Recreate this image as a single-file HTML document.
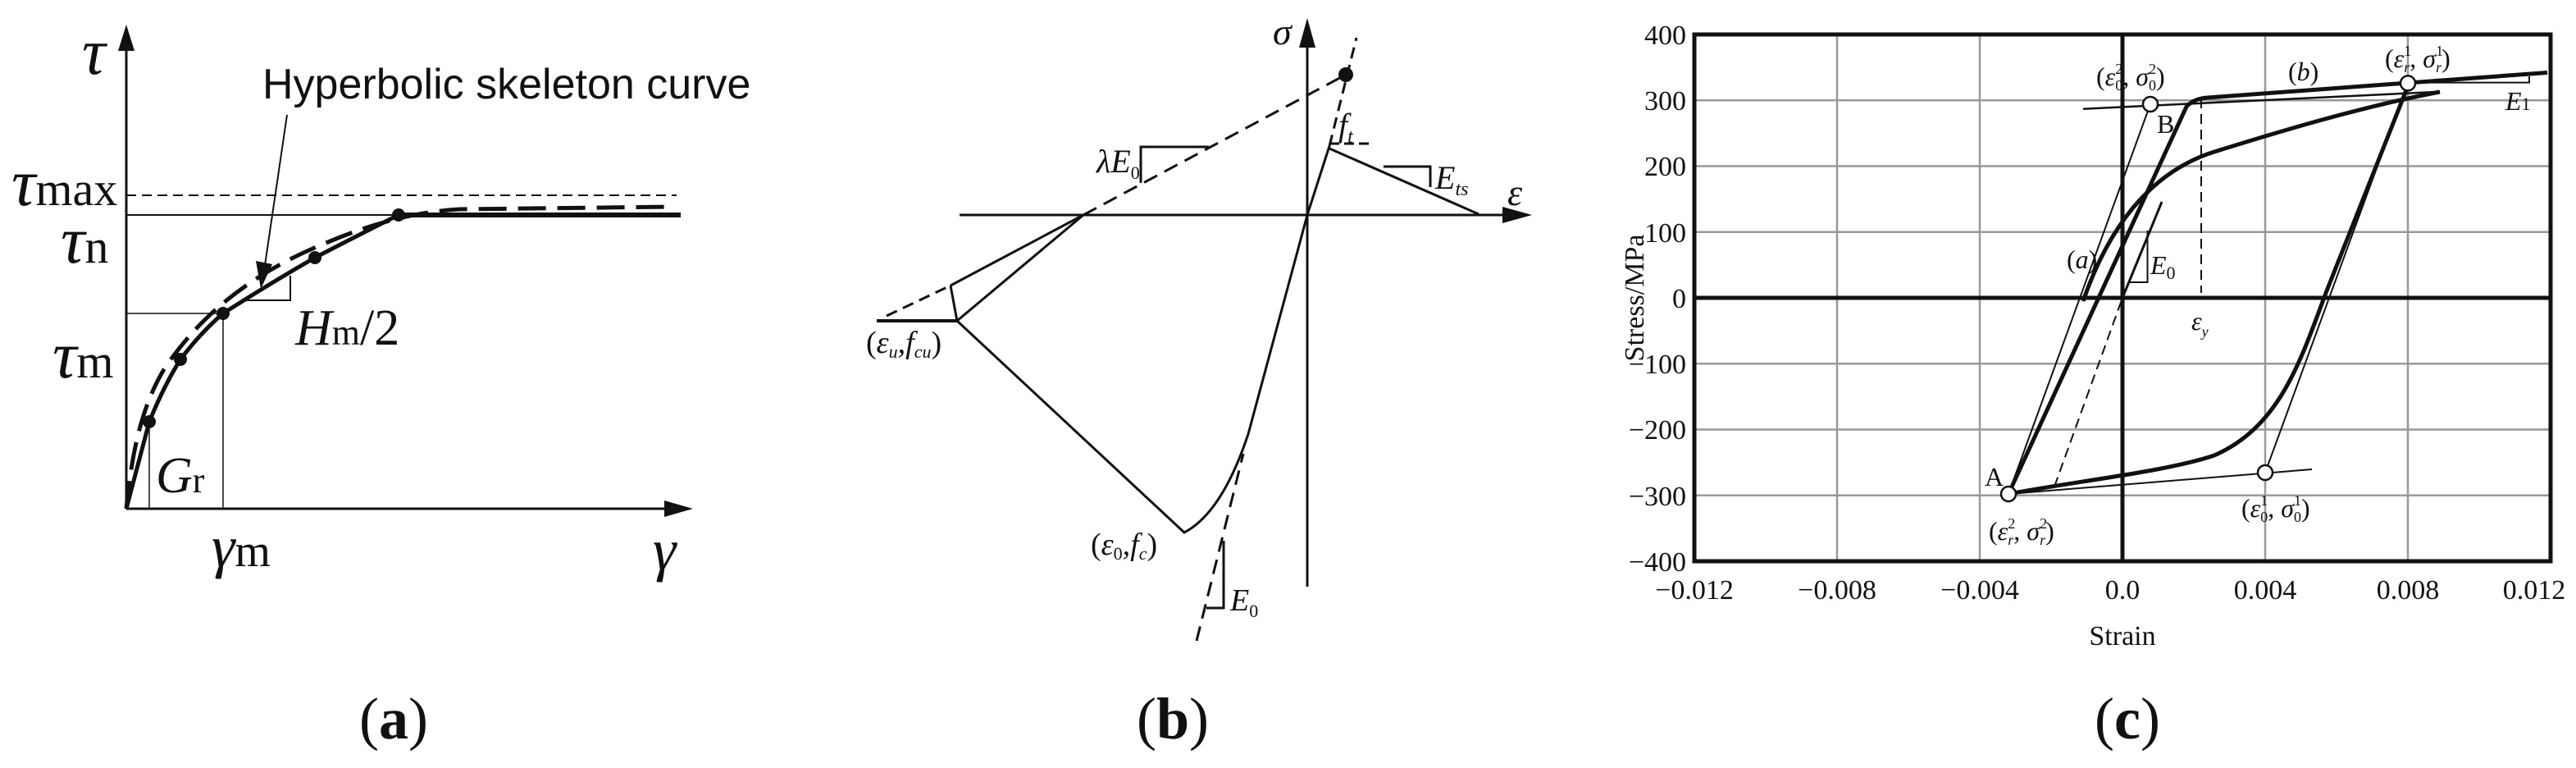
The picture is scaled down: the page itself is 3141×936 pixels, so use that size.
<!DOCTYPE html>
<html><head><meta charset="utf-8"><style>
html,body{margin:0;padding:0;background:#fff;}
svg{display:block;}
.s{font-family:"Liberation Serif",serif;}
.i{font-family:"Liberation Serif",serif;font-style:italic;}
</style></head><body>
<svg width="3141" height="936" viewBox="0 0 3141 936" xmlns="http://www.w3.org/2000/svg">
<rect width="3141" height="936" fill="#fff"/>

<!-- ===== Panel (a) ===== -->
<g stroke="#111" fill="none">
  <line x1="154" y1="620" x2="154" y2="50" stroke-width="3"/>
  <path d="M154,30 L144,62 L164,62 z" fill="#111" stroke="none"/>
  <line x1="154" y1="620" x2="820" y2="620" stroke-width="3"/>
  <path d="M845,620 L810,610 L810,630 z" fill="#111" stroke="none"/>
  <line x1="154" y1="238" x2="825" y2="238" stroke-width="2" stroke-dasharray="12,7"/>
  <line x1="154" y1="262" x2="486" y2="262" stroke-width="2"/>
  <line x1="486" y1="262" x2="830" y2="262" stroke-width="6"/>
  <line x1="154" y1="382" x2="272" y2="382" stroke-width="1.5"/>
  <line x1="272" y1="382" x2="272" y2="620" stroke-width="1.5"/>
  <line x1="182" y1="514" x2="182" y2="620" stroke-width="1.5"/>
  <polyline points="300,366 354,366 354,336" stroke-width="2"/>
  <path d="M154,620 L182,514 Q200,470 220,438 Q245,405 272,382 Q330,345 384,314 Q440,285 486,262" stroke-width="5"/>
  <path d="M154,620 C160,560 170,500 200,450 C240,390 300,335 400,295 C460,270 510,258 560,255 L820,252" stroke-width="5" stroke-dasharray="34,14"/>
  <line x1="350" y1="140" x2="322" y2="330" stroke-width="2"/>
  <path d="M318,352 L312,318 L332,322 z" fill="#111" stroke="none"/>
</g>
<g fill="#111">
  <circle cx="182" cy="514" r="8"/><circle cx="220" cy="438" r="8"/><circle cx="272" cy="382" r="8"/><circle cx="384" cy="314" r="8"/><circle cx="486" cy="262" r="8"/>
</g>
<g class="i" fill="#111">
  <text x="100" y="90" font-size="80">τ</text>
  <text x="14" y="250" font-size="82">τ<tspan class="s" font-style="normal" font-size="58">max</tspan></text>
  <text x="74" y="320" font-size="82">τ<tspan class="s" font-style="normal" font-size="58">n</tspan></text>
  <text x="64" y="460" font-size="82">τ<tspan class="s" font-style="normal" font-size="58">m</tspan></text>
  <text x="360" y="420" font-size="62">H<tspan class="s" font-style="normal" font-size="44">m</tspan><tspan class="s" font-style="normal">/2</tspan></text>
  <text x="190" y="620" font-size="62" dy="-20">G<tspan class="s" font-style="normal" font-size="44">r</tspan></text>
  <text x="258" y="690" font-size="72">γ<tspan class="s" font-style="normal" font-size="56">m</tspan></text>
  <text x="796" y="694" font-size="72">γ</text>
</g>
<text x="320" y="120" font-family="Liberation Sans, sans-serif" font-size="52" fill="#111">Hyperbolic skeleton curve</text>
<text x="480" y="900" text-anchor="middle" class="s" font-size="72" fill="#111">(<tspan font-weight="bold">a</tspan>)</text>

<!-- ===== Panel (b) ===== -->
<g stroke="#111" fill="none" stroke-width="3">
  <line x1="1594" y1="715" x2="1594" y2="50"/>
  <path d="M1594,22 L1584,58 L1604,58 z" fill="#111" stroke="none"/>
  <line x1="1170" y1="262" x2="1840" y2="262"/>
  <path d="M1868,262 L1832,252 L1832,272 z" fill="#111" stroke="none"/>
  <line x1="1594" y1="262" x2="1621" y2="178"/>
  <line x1="1621" y1="178" x2="1654" y2="46" stroke-dasharray="14,8"/>
  <line x1="1621" y1="175" x2="1672" y2="175" stroke-dasharray="12,6"/>
  <line x1="1621" y1="181" x2="1803" y2="261"/>
  <polyline points="1687,203 1744,203 1744,228"/>
  <path d="M1594,262 L1522,529 Q1490,625 1444,649 L1167,391"/>
  <line x1="1069" y1="391" x2="1167" y2="391" stroke-width="4"/>
  <line x1="1081" y1="385" x2="1159" y2="348" stroke-dasharray="14,8"/>
  <line x1="1159" y1="348" x2="1167" y2="391"/>
  <line x1="1159" y1="348" x2="1321" y2="262"/>
  <line x1="1167" y1="391" x2="1321" y2="262"/>
  <line x1="1321" y1="262" x2="1641" y2="91" stroke-dasharray="18,10"/>
  <polyline points="1474,179 1391,179 1391,223"/>
  <line x1="1459" y1="781" x2="1516" y2="553" stroke-dasharray="18,10"/>
  <polyline points="1492,659 1492,741 1471,741"/>
</g>
<circle cx="1641" cy="91" r="9" fill="#111"/>
<g class="i" fill="#111">
  <text x="1552" y="54" font-size="46">σ</text>
  <text x="1838" y="250" font-size="46">ε</text>
  <text x="1632" y="166" font-size="40">f<tspan font-size="24" dy="8">t</tspan></text>
  <text x="1750" y="230" font-size="40">E<tspan font-size="24" dy="8">ts</tspan></text>
  <text x="1337" y="210" font-size="40">λE<tspan class="s" font-style="normal" font-size="22" dy="8">0</tspan></text>
  <text x="1056" y="430" font-size="38"><tspan class="s" font-style="normal">(</tspan>ε<tspan font-size="22" dy="6">u</tspan><tspan dy="-6">,f</tspan><tspan font-size="22" dy="6">cu</tspan><tspan class="s" font-style="normal" dy="-6">)</tspan></text>
  <text x="1330" y="676" font-size="38"><tspan class="s" font-style="normal">(</tspan>ε<tspan class="s" font-style="normal" font-size="22" dy="6">0</tspan><tspan dy="-6">,f</tspan><tspan font-size="22" dy="6">c</tspan><tspan class="s" font-style="normal" dy="-6">)</tspan></text>
  <text x="1500" y="744" font-size="38">E<tspan class="s" font-style="normal" font-size="22" dy="8">0</tspan></text>
</g>
<text x="1430" y="900" text-anchor="middle" class="s" font-size="72" fill="#111">(<tspan font-weight="bold">b</tspan>)</text>

<!-- ===== Panel (c) ===== -->
<g stroke="#999" stroke-width="2.5">
  <line x1="2240" y1="42" x2="2240" y2="684"/><line x1="2414" y1="42" x2="2414" y2="684"/>
  <line x1="2762" y1="42" x2="2762" y2="684"/><line x1="2936" y1="42" x2="2936" y2="684"/>
  <line x1="2066" y1="122.3" x2="3110" y2="122.3"/><line x1="2066" y1="202.5" x2="3110" y2="202.5"/>
  <line x1="2066" y1="282.8" x2="3110" y2="282.8"/><line x1="2066" y1="443.3" x2="3110" y2="443.3"/>
  <line x1="2066" y1="523.5" x2="3110" y2="523.5"/><line x1="2066" y1="603.8" x2="3110" y2="603.8"/>
</g>
<rect x="2066" y="42" width="1044" height="642" fill="none" stroke="#111" stroke-width="5"/>
<line x1="2588" y1="42" x2="2588" y2="684" stroke="#111" stroke-width="5"/>
<line x1="2066" y1="363" x2="3110" y2="363" stroke="#111" stroke-width="5"/>
<g stroke="#111" fill="none">
  <line x1="2540" y1="132.7" x2="2975" y2="111.8" stroke-width="2.5"/>
  <path d="M2449,602 L2666,130 Q2675,120 2692,119 L3106,88.5" stroke-width="5"/>
  <line x1="2449" y1="602" x2="2622" y2="127" stroke-width="2"/>
  <path d="M2934,110 L2836,357 C2805,440 2780,520 2700,555 C2640,575 2540,585 2449,602" stroke-width="5"/>
  <line x1="2762" y1="576" x2="2936" y2="101" stroke-width="2"/>
  <line x1="2449" y1="602" x2="2819" y2="572" stroke-width="2"/>
  <path d="M2540,367 C2570,280 2620,210 2700,185 C2780,160 2880,130 2975,112" stroke-width="5"/>
  <line x1="2588" y1="363" x2="2636" y2="246" stroke-width="3"/>
  <line x1="2505" y1="593" x2="2588" y2="363" stroke-width="2" stroke-dasharray="12,7"/>
  <line x1="2684" y1="120" x2="2684" y2="357" stroke-width="2" stroke-dasharray="12,7"/>
  <polyline points="2936,100.6 3084,100.6 3084,93" stroke-width="2"/>
  <polyline points="2618.5,281 2618.5,344 2595,344" stroke-width="2"/>
</g>
<g fill="#fff" stroke="#111" stroke-width="2.5">
  <circle cx="2622" cy="127" r="9"/><circle cx="2936" cy="101.4" r="9"/><circle cx="2762" cy="576" r="9"/><circle cx="2449" cy="602" r="9"/>
</g>
<g class="s" fill="#111" font-size="34" text-anchor="end">
  <text x="2056" y="54">400</text><text x="2056" y="134">300</text><text x="2056" y="214">200</text>
  <text x="2056" y="295">100</text><text x="2056" y="375">0</text><text x="2056" y="455">−100</text>
  <text x="2056" y="535">−200</text><text x="2056" y="616">−300</text><text x="2056" y="696">−400</text>
</g>
<g class="s" fill="#111" font-size="34" text-anchor="middle">
  <text x="2066" y="730">−0.012</text><text x="2240" y="730">−0.008</text><text x="2414" y="730">−0.004</text>
  <text x="2588" y="730">0.0</text><text x="2762" y="730">0.004</text><text x="2936" y="730">0.008</text><text x="3090" y="730">0.012</text>
  <text x="2588" y="786">Strain</text>
</g>
<text class="s" font-size="34" fill="#111" text-anchor="middle" transform="translate(2004,363) rotate(-90)">Stress/MPa</text>
<g class="s" fill="#111" font-size="32">
  <text x="2556" y="104">(<tspan class="i">ε</tspan><tspan font-size="18" dy="-14">2</tspan><tspan font-size="18" dx="-9" dy="20">0</tspan><tspan dy="-6">,  </tspan><tspan class="i">σ</tspan><tspan font-size="18" dy="-14">2</tspan><tspan font-size="18" dx="-9" dy="20">0</tspan><tspan dy="-6">)</tspan></text>
  <text x="2790" y="98">(<tspan class="i">b</tspan>)</text>
  <text x="2908" y="82">(<tspan class="i">ε</tspan><tspan font-size="18" dy="-14">1</tspan><tspan class="i" font-size="18" dx="-9" dy="20">r</tspan><tspan dy="-6">,  </tspan><tspan class="i">σ</tspan><tspan font-size="18" dy="-14">1</tspan><tspan class="i" font-size="18" dx="-9" dy="20">r</tspan><tspan dy="-6">)</tspan></text>
  <text x="3055" y="134" class="i">E<tspan font-size="22" font-style="normal">1</tspan></text>
  <text x="2630" y="162">B</text>
  <text x="2520" y="327">(<tspan class="i">a</tspan>)</text>
  <text x="2622" y="334" class="i">E<tspan font-size="22" font-style="normal" dy="6">0</tspan></text>
  <text x="2672" y="402" class="i">ε<tspan font-size="18" dy="8">y</tspan></text>
  <text x="2420" y="592">A</text>
  <text x="2425" y="658">(<tspan class="i">ε</tspan><tspan font-size="18" dy="-14">2</tspan><tspan class="i" font-size="18" dx="-9" dy="20">r</tspan><tspan dy="-6">,  </tspan><tspan class="i">σ</tspan><tspan font-size="18" dy="-14">2</tspan><tspan class="i" font-size="18" dx="-9" dy="20">r</tspan><tspan dy="-6">)</tspan></text>
  <text x="2733" y="630">(<tspan class="i">ε</tspan><tspan font-size="18" dy="-14">1</tspan><tspan font-size="18" dx="-9" dy="20">0</tspan><tspan dy="-6">,  </tspan><tspan class="i">σ</tspan><tspan font-size="18" dy="-14">1</tspan><tspan font-size="18" dx="-9" dy="20">0</tspan><tspan dy="-6">)</tspan></text>
</g>
<text x="2594" y="900" text-anchor="middle" class="s" font-size="72" fill="#111">(<tspan font-weight="bold">c</tspan>)</text>
</svg>
</body></html>
